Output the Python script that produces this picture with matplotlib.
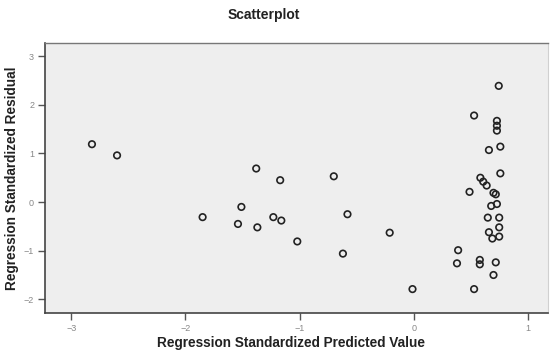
import matplotlib
matplotlib.use("Agg")
import matplotlib.pyplot as plt

# Standardized predicted values (x) and standardized residuals (y)
pred = [
    -2.82, -2.60, -1.85, -1.54, -1.51, -1.38, -1.37, -1.23, -1.17, -1.16,
    -1.02, -0.70, -0.62, -0.58, -0.21, -0.01,
    0.38, 0.39, 0.49, 0.53, 0.53, 0.58, 0.58, 0.585, 0.61, 0.64,
    0.65, 0.66, 0.66, 0.68, 0.69, 0.70, 0.70, 0.72, 0.72, 0.73,
    0.73, 0.73, 0.73, 0.746, 0.75, 0.75, 0.75, 0.76, 0.76,
]
resid = [
    1.19, 0.96, -0.31, -0.45, -0.10, 0.69, -0.52, -0.31, 0.45, -0.38,
    -0.81, 0.53, -1.06, -0.25, -0.63, -1.79,
    -1.26, -0.99, 0.21, 1.78, -1.79, -1.19, -1.28, 0.50, 0.42, 0.34,
    -0.32, -0.62, 1.07, -0.08, -0.75, 0.19, -1.50, 0.16, -1.24, -0.04,
    1.67, 1.57, 1.47, 2.39, -0.32, -0.52, -0.71, 1.14, 0.59,
]
xticks = [-3, -2, -1, 0, 1]
yticks = [-2, -1, 0, 1, 2, 3]

plt.rcParams["font.family"] = ["Liberation Sans", "DejaVu Sans"]

fig = plt.figure(figsize=(5.51, 3.56), dpi=100)
ax = fig.add_axes([0.082, 0.121, 0.913, 0.758])
ax.set_facecolor("#eeeeee")

ax.scatter(
    pred,
    resid,
    s=22,
    facecolors="none",
    edgecolors="#222222",
    linewidths=1.2,
    zorder=3,
)

ax.set_xlim(-3.23, 1.18)
ax.set_ylim(-2.28, 3.27)
ax.set_xticks(xticks)
ax.set_yticks(yticks)
ax.tick_params(
    axis="both",
    direction="out",
    length=5,
    width=1,
    colors="#555555",
    labelsize=6.5,
    labelcolor="#888888",
    pad=3,
)

for side in ["left", "bottom"]:
    ax.spines[side].set_color("#444444")
    ax.spines[side].set_linewidth(1.2)
ax.spines["top"].set_color("#777777")
ax.spines["top"].set_linewidth(1.0)
ax.spines["right"].set_color("#d0d0d0")

ax.set_xlabel(
    "Regression Standardized Predicted Value",
    fontsize=9.8,
    fontweight="bold",
    color="#222222",
)
ax.set_ylabel(
    "Regression Standardized Residual",
    fontsize=9.8,
    fontweight="bold",
    color="#222222",
)
ax.xaxis.set_label_coords(0.488, -0.111)
ax.yaxis.set_label_coords(-0.066, 0.5)
ax.xaxis.label.set_va("center")
ax.yaxis.label.set_va("center")

fig.text(
    0.479,
    0.958,
    "Scatterplot",
    ha="center",
    va="center",
    fontsize=10,
    fontweight="bold",
    color="#222222",
)

fig.savefig("out.png", dpi=100, facecolor="white")
